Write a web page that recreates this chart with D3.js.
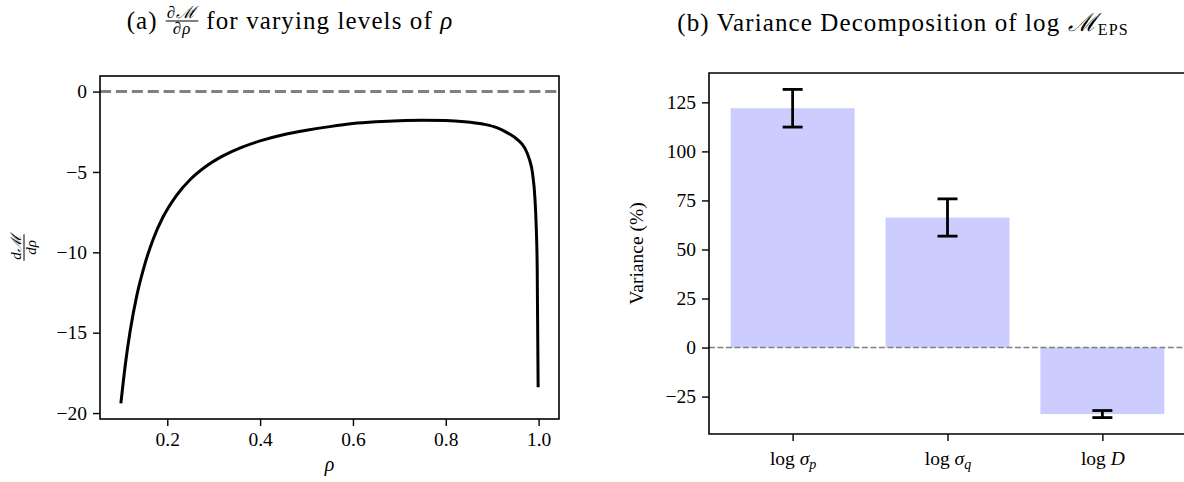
<!DOCTYPE html>
<html>
<head>
<meta charset="utf-8">
<script src="https://cdn.jsdelivr.net/npm/d3@7"></script>
<style>
  body { margin: 0; background: #fff; }
  svg text { font-family: "Liberation Serif", "DejaVu Serif", serif; fill: #000; }
</style>
</head>
<body>
<svg id="chart" width="1184" height="482"></svg>
<script>
// panel (a): dM/drho against rho
const rho = [0.10, 0.11, 0.12, 0.135, 0.15, 0.17, 0.19, 0.22, 0.25, 0.28, 0.32, 0.36, 0.40, 0.45,
  0.50, 0.55, 0.60, 0.65, 0.70, 0.75, 0.80, 0.84, 0.88, 0.91, 0.935, 0.955, 0.97, 0.98, 0.987,
  0.992, 0.995, 0.997, 0.999];
const dMdrho = [-19.4, -16.9, -14.9, -12.6, -10.9, -9.15, -7.85, -6.45, -5.45, -4.72, -4.0, -3.47,
  -3.07, -2.69, -2.41, -2.18, -1.99, -1.88, -1.81, -1.78, -1.8, -1.87, -2.02, -2.24, -2.6, -3.0,
  -3.5, -4.2, -5.1, -6.6, -8.5, -11.0, -18.4];
const rhoTicks = [0.2, 0.4, 0.6, 0.8, 1.0];
const dMTicks = [0, -5, -10, -15, -20];

// panel (b): variance decomposition
const factorSymbols = ['σ', 'σ', 'D'];
const factorSubs = ['p', 'q', ''];
const varianceShare = [122.0, 66.3, -33.9];
const varianceErr = [9.6, 9.5, 1.8];
const varianceTicks = [-25, 0, 25, 50, 75, 100, 125];

const svg = d3.select('#chart');

// matplotlib-like 5% margins
function padded(lo, hi)
{
  const m = (hi - lo) * 0.05;
  return [lo - m, hi + m];
}

function fraction(g, cx, barY, num, den, size)
{
  const n = g.append('text').attr('x', cx).attr('y', barY - size * 0.2)
  .attr('text-anchor', 'middle').attr('font-size', size).style('font-style', 'italic').text(num);
  const d = g.append('text').attr('x', cx).attr('y', barY + size * 0.78)
  .attr('text-anchor', 'middle').attr('font-size', size).style('font-style', 'italic').text(den);
  const w = Math.max(n.node().getComputedTextLength(), d.node().getComputedTextLength()) + 2;
  g.append('line').attr('x1', cx - w / 2).attr('x2', cx + w / 2)
  .attr('y1', barY).attr('y2', barY).attr('stroke', '#000').attr('stroke-width', 1);
  return w;
}

function styleAxis(sel)
{
  sel.select('.domain').remove();
  sel.selectAll('.tick line').attr('stroke', '#000').attr('stroke-width', 1.4);
  sel.selectAll('.tick text').attr('font-size', 19.5).attr('fill', '#000');
}

// ---------- panel (a) ----------
{
  const box = { left: 100, right: 559, top: 76, bottom: 419 };
  const x = d3.scaleLinear().domain(padded(d3.min(rho), d3.max(rho))).range([box.left, box.right]);
  const y = d3.scaleLinear().domain(padded(Math.min(d3.min(dMdrho), 0), Math.max(d3.max(dMdrho), 0)))
  .range([box.bottom, box.top]);

  const g = svg.append('g');

  g.append('line')
  .attr('x1', box.left).attr('x2', box.right)
  .attr('y1', y(0)).attr('y2', y(0))
  .attr('stroke', '#808080').attr('stroke-width', 3)
  .attr('stroke-dasharray', '11.1,4.8');

  const line = d3.line()
  .x(d => x(d[0]))
  .y(d => y(d[1]))
  .curve(d3.curveMonotoneX);

  g.append('path')
  .datum(rho.map((r, i) => [r, dMdrho[i]]))
  .attr('fill', 'none')
  .attr('stroke', '#000')
  .attr('stroke-width', 3)
  .attr('stroke-linejoin', 'round')
  .attr('d', line);

  g.append('g')
  .attr('transform', `translate(0,${box.bottom})`)
  .call(d3.axisBottom(x).tickValues(rhoTicks).tickFormat(d3.format('.1f')).tickSize(7).tickPadding(6))
  .call(styleAxis);

  g.append('g')
  .attr('transform', `translate(${box.left},0)`)
  .call(d3.axisLeft(y).tickValues(dMTicks).tickFormat(d3.format('d')).tickSize(7).tickPadding(6))
  .call(styleAxis);

  g.append('rect')
  .attr('x', box.left).attr('y', box.top)
  .attr('width', box.right - box.left).attr('height', box.bottom - box.top)
  .attr('fill', 'none').attr('stroke', '#000').attr('stroke-width', 1.6);

  g.append('text')
  .attr('x', (box.left + box.right) / 2).attr('y', 471)
  .attr('text-anchor', 'middle').attr('font-size', 20).style('font-style', 'italic')
  .text('ρ');

  // y label: rotated fraction dM/drho
  const yl = g.append('g').attr('transform', `translate(24,${(box.top + box.bottom) / 2}) rotate(-90)`);
  fraction(yl, 0, 0, 'dℳ', 'dρ', 15);

  // title (a)
  const tg = svg.append('g').attr('letter-spacing', 1.1);
  const t1 = tg.append('text').attr('x', 0).attr('y', 0).attr('font-size', 25).text('(a)');
  let cx = t1.node().getComputedTextLength() + 8;
  const fg = tg.append('g');
  const fw = fraction(fg, 0, -8, '∂ℳ', '∂ρ', 17);
  fg.attr('transform', `translate(${cx + fw / 2},0)`);
  cx += fw + 8;
  const t2 = tg.append('text').attr('x', cx).attr('y', 0).attr('font-size', 25);
  t2.append('tspan').text('for varying levels of ');
  t2.append('tspan').style('font-style', 'italic').text('ρ');
  const total = cx + t2.node().getComputedTextLength();
  tg.attr('transform', `translate(${290 - total / 2},29)`);
}

// ---------- panel (b) ----------
{
  const box = { left: 709, right: 1186, top: 73, bottom: 434 };
  const idx = d3.range(varianceShare.length);
  const barW = 0.8;
  const x = d3.scaleLinear()
  .domain(padded(-barW / 2, varianceShare.length - 1 + barW / 2))
  .range([box.left, box.right]);
  const lo = d3.min(idx, i => Math.min(0, varianceShare[i] - varianceErr[i]));
  const hi = d3.max(idx, i => Math.max(0, varianceShare[i] + varianceErr[i]));
  const y = d3.scaleLinear().domain(padded(lo, hi)).range([box.bottom, box.top]);

  const g = svg.append('g');

  g.selectAll('.bar')
  .data(idx)
  .enter().append('rect')
  .attr('class', 'bar')
  .attr('x', i => x(i - barW / 2))
  .attr('width', i => x(i + barW / 2) - x(i - barW / 2))
  .attr('y', i => y(Math.max(0, varianceShare[i])))
  .attr('height', i => Math.abs(y(varianceShare[i]) - y(0)))
  .attr('fill', '#ccccff');

  g.append('line')
  .attr('x1', box.left).attr('x2', box.right)
  .attr('y1', y(0)).attr('y2', y(0))
  .attr('stroke', '#808080').attr('stroke-width', 1.6)
  .attr('stroke-dasharray', '5.9,2.6');

  const cap = 10;
  const eb = g.selectAll('.err').data(idx).enter().append('g').attr('class', 'err')
  .attr('stroke', '#000').attr('stroke-width', 2.8);
  eb.append('line')
  .attr('x1', i => x(i)).attr('x2', i => x(i))
  .attr('y1', i => y(varianceShare[i] - varianceErr[i]))
  .attr('y2', i => y(varianceShare[i] + varianceErr[i]));
  eb.append('line')
  .attr('x1', i => x(i) - cap).attr('x2', i => x(i) + cap)
  .attr('y1', i => y(varianceShare[i] - varianceErr[i]))
  .attr('y2', i => y(varianceShare[i] - varianceErr[i]));
  eb.append('line')
  .attr('x1', i => x(i) - cap).attr('x2', i => x(i) + cap)
  .attr('y1', i => y(varianceShare[i] + varianceErr[i]))
  .attr('y2', i => y(varianceShare[i] + varianceErr[i]));

  g.append('g')
  .attr('transform', `translate(0,${box.bottom})`)
  .call(d3.axisBottom(x).tickValues(idx).tickSize(7).tickPadding(10))
  .call(styleAxis)
  .selectAll('.tick text')
  .each(function (i)
  {
    const t = d3.select(this);
    t.text(null);
    t.append('tspan').text('log ');
    t.append('tspan').style('font-style', 'italic').text(factorSymbols[i]);
    if (factorSubs[i])
    {
      t.append('tspan').attr('dy', 4).attr('font-size', 14).style('font-style', 'italic').text(factorSubs[i]);
    }
  });

  g.append('g')
  .attr('transform', `translate(${box.left},0)`)
  .call(d3.axisLeft(y).tickValues(varianceTicks).tickFormat(d3.format('d')).tickSize(7).tickPadding(6))
  .call(styleAxis);

  g.append('path')
  .attr('d', `M${box.right},${box.top}H${box.left}V${box.bottom}H${box.right}`)
  .attr('fill', 'none').attr('stroke', '#000').attr('stroke-width', 1.6);

  g.append('text')
  .attr('transform', `translate(643,${(box.top + box.bottom) / 2}) rotate(-90)`)
  .attr('text-anchor', 'middle').attr('font-size', 19.5)
  .text('Variance (%)');

  // title (b)
  const t = svg.append('text').attr('x', 903).attr('y', 31)
  .attr('text-anchor', 'middle').attr('font-size', 25).attr('letter-spacing', 1.1);
  t.append('tspan').text('(b) Variance Decomposition of log ');
  t.append('tspan').style('font-style', 'italic').text('ℳ');
  t.append('tspan').attr('dy', 4).attr('font-size', 16).text('EPS');
}
</script>
</body>
</html>
